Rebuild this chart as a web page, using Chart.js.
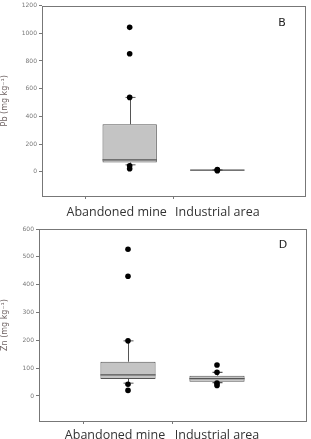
<!DOCTYPE html>
<html>
<head>
<meta charset="utf-8">
<script src="https://cdn.jsdelivr.net/npm/chart.js@4.4.0/dist/chart.umd.min.js"></script>
<style>
  body { margin: 0; background: #fff; }
  canvas { display: block; }
</style>
</head>
<body>
<canvas id="pbChart" width="311" height="220"></canvas>
<canvas id="znChart" width="311" height="219"></canvas>
<script>
// categories (empty slots at the ends put the two boxes at 1/3 and 2/3)
var categories = ['', 'Abandoned mine', 'Industrial area', ''];

// Pb (panel B)
var pbQ1 = [null, 67, 10, null];
var pbMedian = [null, 86, 12, null];
var pbQ3 = [null, 343, 14, null];
var pbLow = [null, 50, 10, null];
var pbHigh = [null, 537, 14, null];
var pbPointsMine = [1043, 852, 537, 43, 22];
var pbPointsIndustrial = [16, 12, 8];
var pbTicks = [0, 200, 400, 600, 800, 1000, 1200];

// Zn (panel D)
var znQ1 = [null, 61, 51, null];
var znMedian = [null, 76, 62, null];
var znQ3 = [null, 123, 73, null];
var znLow = [null, 46, 48, null];
var znHigh = [null, 198, 85, null];
var znPointsMine = [527, 430, 198, 42, 20];
var znPointsIndustrial = [111, 85, 46, 38];
var znTicks = [0, 100, 200, 300, 400, 500, 600];

// whiskers, caps and median line, drawn right after the box dataset
var boxExtras = {
    id: 'boxExtras',
    afterDatasetDraw: function(chart, args, opts) {
        if (args.index !== 1) return;
        var c = chart.ctx, y = chart.scales.y;
        c.save();
        c.strokeStyle = '#555';
        c.lineWidth = 1;
        args.meta.data.forEach(function(bar, i) {
            if (opts.q1[i] == null) return;
            var x = Math.round(bar.x) + 0.5, half = bar.width / 2;
            var pQ1 = y.getPixelForValue(opts.q1[i]), pQ3 = y.getPixelForValue(opts.q3[i]);
            var pLo = y.getPixelForValue(opts.low[i]), pHi = y.getPixelForValue(opts.high[i]);
            var pMed = y.getPixelForValue(opts.median[i]);
            c.beginPath();
            c.moveTo(x, pQ3); c.lineTo(x, pHi);
            c.moveTo(x - 5, pHi); c.lineTo(x + 5, pHi);
            c.moveTo(x, pQ1); c.lineTo(x, pLo);
            c.moveTo(x - 5, pLo); c.lineTo(x + 5, pLo);
            c.stroke();
            c.beginPath();
            c.lineWidth = 1.2;
            c.moveTo(bar.x - half, pMed); c.lineTo(bar.x + half, pMed);
            c.stroke();
        });
        c.restore();
    }
};

// frame around the plot area and the panel letter
var frame = {
    id: 'frame',
    afterDraw: function(chart, args, opts) {
        var a = chart.chartArea, c = chart.ctx;
        c.save();
        c.strokeStyle = '#777';
        c.lineWidth = 1;
        c.strokeRect(Math.round(a.left) + 0.5, Math.round(a.top) + 0.5,
            Math.round(a.right - a.left), Math.round(a.bottom - a.top));
        c.fillStyle = '#222';
        c.font = '11px "DejaVu Sans"';
        c.textAlign = 'center';
        c.textBaseline = 'middle';
        c.fillText(opts.letter, a.right - 23, a.top + opts.letterDy);
        c.restore();
    }
};

function pointData(mine, industrial) {
    var pts = [];
    mine.forEach(function(v) { pts.push({ x: 'Abandoned mine', y: v }); });
    industrial.forEach(function(v) { pts.push({ x: 'Industrial area', y: v }); });
    return pts;
}

// the original labels sit a little left of their ticks; trailing spaces nudge them
function catLabel(value, index) {
    var name = categories[index];
    if (index === 1) return name + '        ';
    return name;
}

function makeChart(id, s) {
    var floating = s.q1.map(function(v, i) { return v == null ? null : [v, s.q3[i]]; });
    return new Chart(document.getElementById(id), {
        type: 'bar',
        data: {
            labels: categories,
            datasets: [{
                type: 'line',
                data: pointData(s.mine, s.industrial),
                showLine: false,
                pointRadius: 2.8,
                pointBackgroundColor: '#000',
                pointBorderColor: '#000',
                pointBorderWidth: 0
            }, {
                data: floating,
                backgroundColor: '#c4c4c4',
                borderColor: '#555',
                borderWidth: 1,
                borderSkipped: false,
                barPercentage: 0.62,
                categoryPercentage: 1
            }]
        },
        options: {
            responsive: false,
            animation: false,
            devicePixelRatio: 1,
            layout: { padding: { top: s.top, right: 5, left: 0, bottom: 0 } },
            plugins: {
                legend: { display: false },
                tooltip: { enabled: false },
                boxExtras: { q1: s.q1, q3: s.q3, low: s.low, high: s.high, median: s.median },
                frame: { letter: s.letter, letterDy: s.letterDy }
            },
            scales: {
                x: {
                    offset: false,
                    border: { display: false },
                    grid: {
                        drawOnChartArea: false,
                        tickLength: 3,
                        tickColor: function(ctx) { return ctx.index === 1 || ctx.index === 2 ? '#777' : 'rgba(0,0,0,0)'; }
                    },
                    ticks: {
                        color: '#333',
                        font: { family: '"Open Sans"', size: 12.5 },
                        padding: s.xPad,
                        maxRotation: 0,
                        autoSkip: false,
                        callback: catLabel
                    },
                    afterFit: function(scale) { scale.height = s.xHeight; }
                },
                y: {
                    min: s.min,
                    max: s.max,
                    border: { display: false },
                    afterBuildTicks: function(scale) {
                        scale.ticks = s.ticks.map(function(v) { return { value: v }; });
                    },
                    grid: { drawOnChartArea: false, tickLength: 3, tickColor: '#777' },
                    ticks: {
                        color: '#777',
                        font: { family: '"DejaVu Sans"', size: 6 },
                        padding: 2,
                        callback: function(v) { return String(v); }
                    },
                    title: {
                        display: true,
                        text: s.title,
                        color: '#6e6262',
                        font: { family: '"DejaVu Sans"', size: 8 },
                        padding: { top: 0, bottom: 2 }
                    },
                    afterFit: function(scale) { scale.width = s.yWidth; }
                }
            }
        },
        plugins: [boxExtras, frame]
    });
}

makeChart('pbChart', {
    q1: pbQ1, median: pbMedian, q3: pbQ3, low: pbLow, high: pbHigh,
    mine: pbPointsMine, industrial: pbPointsIndustrial, ticks: pbTicks,
    min: -175, max: 1200, title: 'Pb (mg kg\u207B\u00B9)', letter: 'B', letterDy: 18,
    top: 5, yWidth: 42, xHeight: 24, xPad: 6
});

makeChart('znChart', {
    q1: znQ1, median: znMedian, q3: znQ3, low: znLow, high: znHigh,
    mine: znPointsMine, industrial: znPointsIndustrial, ticks: znTicks,
    min: -90, max: 600, title: 'Zn (mg kg\u207B\u00B9)', letter: 'D', letterDy: 16,
    top: 9, yWidth: 39, xHeight: 18, xPad: 4
});
</script>
</body>
</html>
